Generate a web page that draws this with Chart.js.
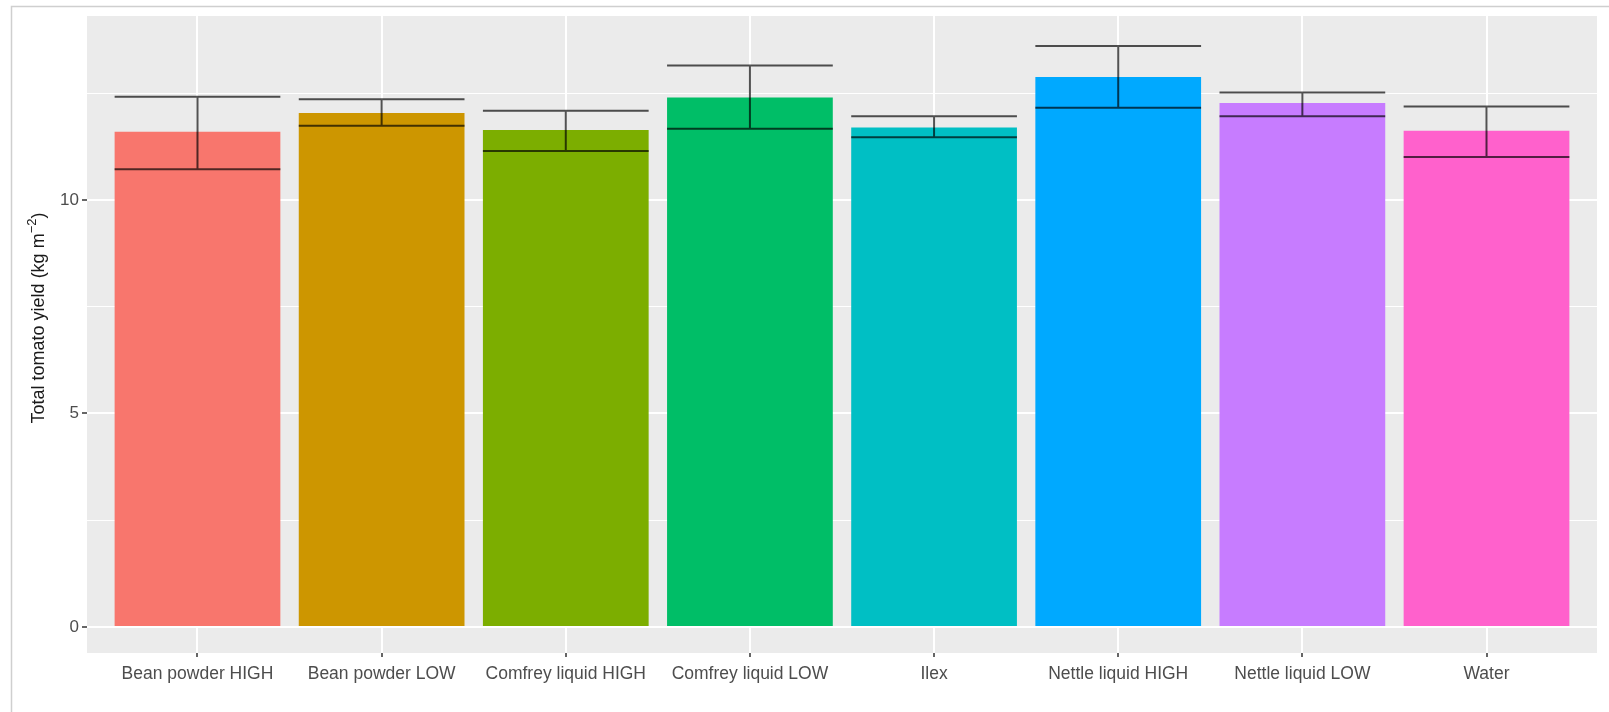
<!DOCTYPE html>
<html>
<head>
<meta charset="utf-8">
<script src="https://cdn.jsdelivr.net/npm/chart.js@4/dist/chart.umd.min.js"></script>
<style>
  html, body { margin: 0; padding: 0; background: #fff; }
  #wrap { width: 1609px; height: 712px; }
</style>
</head>
<body>
<div id="wrap"><canvas id="yieldChart" width="1609" height="712"></canvas></div>
<script>
// -------------------------------
// Data
// -------------------------------
const treatments = ["Bean powder HIGH", "Bean powder LOW", "Comfrey liquid HIGH", "Comfrey liquid LOW",
                    "Ilex", "Nettle liquid HIGH", "Nettle liquid LOW", "Water"];
const meanYield = [11.60, 12.04, 11.64, 12.40, 11.70, 12.88, 12.27, 11.62];
const errUpper  = [12.42, 12.36, 12.09, 13.15, 11.96, 13.61, 12.52, 12.19];
const errLower  = [10.72, 11.74, 11.15, 11.67, 11.47, 12.16, 11.96, 11.01];
const yTicks    = [0, 2.5, 5, 7.5, 10, 12.5];
const barColors = ["#F8766D", "#CD9600", "#7CAE00", "#00BE67", "#00BFC4", "#00A9FF", "#C77CFF", "#FF61CC"];

const FONT = "'Liberation Sans', Arial, sans-serif";

// -------------------------------
// Plugins
// -------------------------------
const panelBg = {
    id: "panelBg",
    beforeDraw(chart) {
        const { ctx, chartArea: a } = chart;
        ctx.save();
        // outer frame
        ctx.strokeStyle = "#cfcfcf";
        ctx.lineWidth = 1.5;
        ctx.strokeRect(11.5, 6.5, 1700, 800);
        // gray panel
        ctx.fillStyle = "#EBEBEB";
        ctx.fillRect(a.left, a.top, a.right - a.left, a.bottom - a.top);
        ctx.restore();
    }
};

const errorBars = {
    id: "errorBars",
    afterDatasetsDraw(chart) {
        const { ctx } = chart;
        const yScale = chart.scales.y;
        const meta = chart.getDatasetMeta(0);
        ctx.save();
        ctx.strokeStyle = "rgba(0,0,0,0.68)";
        ctx.lineWidth = 2;
        meta.data.forEach((bar, i) => {
            const half = bar.width / 2;
            const yHi = yScale.getPixelForValue(errUpper[i]);
            const yLo = yScale.getPixelForValue(errLower[i]);
            ctx.beginPath();
            ctx.moveTo(bar.x - half, yHi); ctx.lineTo(bar.x + half, yHi);
            ctx.moveTo(bar.x - half, yLo); ctx.lineTo(bar.x + half, yLo);
            ctx.moveTo(bar.x, yHi); ctx.lineTo(bar.x, yLo);
            ctx.stroke();
        });
        ctx.restore();
    }
};

const yTitle = {
    id: "yTitle",
    afterDraw(chart) {
        const { ctx } = chart;
        const main = "Total tomato yield (kg m";
        const sup = "\u22122";
        ctx.save();
        ctx.translate(39, 318);
        ctx.rotate(-Math.PI / 2);
        ctx.fillStyle = "#1a1a1a";
        ctx.textBaseline = "middle";
        ctx.font = `18px ${FONT}`;
        const w1 = ctx.measureText(main).width;
        const wClose = ctx.measureText(")").width;
        ctx.font = `13px ${FONT}`;
        const wSup = ctx.measureText(sup).width;
        let x = -(w1 + wSup + wClose) / 2;
        ctx.font = `18px ${FONT}`;
        ctx.textAlign = "left";
        ctx.fillText(main, x, 0);
        x += w1;
        ctx.font = `13px ${FONT}`;
        ctx.fillText(sup, x, -7);
        x += wSup;
        ctx.font = `18px ${FONT}`;
        ctx.fillText(")", x, 0);
        ctx.restore();
    }
};

// -------------------------------
// Chart
// -------------------------------
const ctx = document.getElementById("yieldChart").getContext("2d");
new Chart(ctx, {
    type: "bar",
    data: {
        datasets: [{
            data: meanYield.map((v, i) => ({ x: i, y: v })),
            backgroundColor: barColors,
            borderWidth: 0,
            barPercentage: 0.9,
            categoryPercentage: 1.0
        }]
    },
    options: {
        responsive: false,
        animation: false,
        layout: { padding: { top: 16, right: 12, left: 0, bottom: 0 } },
        plugins: { legend: { display: false }, tooltip: { enabled: false } },
        scales: {
            x: {
                type: "linear",
                min: -0.6,
                max: 7.6,
                offset: false,
                afterBuildTicks: s => { s.ticks = treatments.map((t, i) => ({ value: i })); },
                afterFit: s => { s.height = 59; },
                border: { display: false },
                grid: {
                    offset: false,
                    color: "#ffffff",
                    lineWidth: 2,
                    tickColor: "#333333",
                    tickLength: 4,
                    tickWidth: 1.5
                },
                ticks: {
                    autoSkip: false,
                    maxRotation: 0,
                    padding: 7,
                    color: "#4d4d4d",
                    font: { family: FONT, size: 17.5 },
                    callback: v => treatments[v]
                }
            },
            y: {
                min: -0.61,
                max: 14.31,
                afterBuildTicks: s => { s.ticks = yTicks.map(v => ({ value: v })); },
                afterFit: s => { s.width = 87; },
                border: { display: false },
                grid: {
                    color: "#ffffff",
                    lineWidth: c => (c.tick && c.tick.value % 5 === 0 ? 2 : 1),
                    tickColor: c => (c.tick && c.tick.value % 5 === 0 ? "#333333" : "rgba(0,0,0,0)"),
                    tickLength: 5,
                    tickWidth: 1.5
                },
                ticks: {
                    padding: 3,
                    color: "#4d4d4d",
                    font: { family: FONT, size: 17 },
                    callback: v => (v % 5 === 0 ? String(v) : "")
                }
            }
        }
    },
    plugins: [panelBg, errorBars, yTitle]
});
</script>
</body>
</html>
